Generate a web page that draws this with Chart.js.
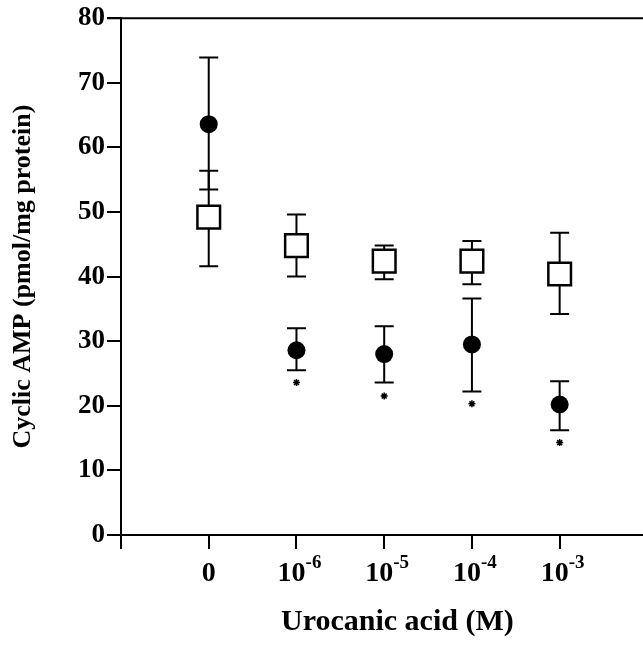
<!DOCTYPE html>
<html lang="en">
<head>
  <meta charset="UTF-8" />
  <title>Cyclic AMP vs urocanic acid</title>
  <script src="https://cdn.jsdelivr.net/npm/chart.js"></script>
  <style>
    body { margin: 0; background: #fff; }
  </style>
</head>
<body>
  <canvas id="chart" width="643" height="646"></canvas>

  <script>
    // category positions on the x axis and their tick labels (base + exponent)
    const categoryPos = [1, 2, 3, 4, 5];
    const xTickBase = ['0', '10', '10', '10', '10'];
    const xTickExp = ['', '-6', '-5', '-4', '-3'];

    // filled circles
    const circleMean = [63.6, 28.6, 28.0, 29.5, 20.2];
    const circleUpper = [73.9, 32.0, 32.3, 36.6, 23.8];
    const circleLower = [53.5, 25.5, 23.6, 22.2, 16.2];
    const starValues = [null, 23.6, 21.5, 20.3, 14.3];

    // open squares
    const squareMean = [49.2, 44.8, 42.4, 42.4, 40.4];
    const squareUpper = [56.4, 49.6, 44.8, 45.5, 46.8];
    const squareLower = [41.6, 40.0, 39.6, 38.8, 34.2];

    const FONT = "'Liberation Serif', 'Times New Roman', serif";

    const errorBars = {
      id: 'errorBars',
      beforeDatasetsDraw(chart) {
        const { ctx, scales: { x, y } } = chart;
        const cap = 9.5;
        ctx.save();
        ctx.strokeStyle = '#000';
        ctx.lineWidth = 2;
        const draw = (lo, hi) => lo.forEach((v, i) => {
          const px = x.getPixelForValue(categoryPos[i]);
          const yl = y.getPixelForValue(v);
          const yh = y.getPixelForValue(hi[i]);
          ctx.beginPath();
          ctx.moveTo(px, yl); ctx.lineTo(px, yh);
          ctx.moveTo(px - cap, yl); ctx.lineTo(px + cap, yl);
          ctx.moveTo(px - cap, yh); ctx.lineTo(px + cap, yh);
          ctx.stroke();
        });
        draw(squareLower, squareUpper);
        draw(circleLower, circleUpper);
        ctx.restore();
      },
      afterDraw(chart) {
        const { ctx, chartArea, scales: { x } } = chart;
        ctx.save();
        // top frame line
        ctx.strokeStyle = '#000';
        ctx.lineWidth = 2;
        ctx.beginPath();
        ctx.moveTo(chartArea.left - 14, chartArea.top);
        ctx.lineTo(chartArea.right, chartArea.top);
        ctx.stroke();

        // x tick labels with superscript exponents
        ctx.fillStyle = '#000';
        ctx.textBaseline = 'alphabetic';
        ctx.textAlign = 'left';
        const baseFont = 'bold 28px ' + FONT;
        const expFont = 'bold 19px ' + FONT;
        categoryPos.forEach((v, i) => {
          ctx.font = baseFont;
          const wb = ctx.measureText(xTickBase[i]).width;
          ctx.font = expFont;
          const we = xTickExp[i] ? ctx.measureText(xTickExp[i]).width : 0;
          const px = x.getPixelForValue(v) + (we ? 3 : 0);
          const start = px - (wb + we) / 2;
          ctx.font = baseFont;
          ctx.fillText(xTickBase[i], start, 581);
          if (we) {
            ctx.font = expFont;
            ctx.fillText(xTickExp[i], start + wb, 568);
          }
        });

        // x axis title
        ctx.font = 'bold 30px ' + FONT;
        ctx.textAlign = 'center';
        ctx.textBaseline = 'middle';
        ctx.fillText('Urocanic acid (M)', x.getPixelForValue(3.15), 622);
        ctx.restore();
      }
    };

    const toPoints = arr => arr.map((v, i) => ({ x: categoryPos[i], y: v }));

    new Chart(document.getElementById('chart').getContext('2d'), {
      type: 'scatter',
      data: {
        datasets: [
          {
            label: 'Circles',
            data: toPoints(circleMean),
            pointStyle: 'circle',
            pointRadius: 9,
            backgroundColor: '#000',
            borderColor: '#000',
            borderWidth: 0
          },
          {
            label: 'Squares',
            data: toPoints(squareMean),
            pointStyle: 'rect',
            pointRadius: 16,
            backgroundColor: '#fff',
            borderColor: '#000',
            borderWidth: 2.5
          },
          {
            label: 'Significance',
            data: toPoints(starValues).filter(p => p.y !== null),
            pointStyle: 'star',
            pointRadius: 3.5,
            backgroundColor: '#000',
            borderColor: '#000',
            borderWidth: 1.5
          }
        ]
      },
      options: {
        responsive: false,
        animation: false,
        layout: { autoPadding: false, padding: { top: 18, right: 0, bottom: 97, left: 0 } },
        plugins: {
          legend: { display: false },
          tooltip: { enabled: false }
        },
        scales: {
          x: {
            type: 'linear',
            min: 0,
            max: 5.95,
            afterBuildTicks: scale => {
              scale.ticks = [0].concat(categoryPos).map(v => ({ value: v }));
            },
            ticks: { display: false },
            grid: {
              drawOnChartArea: false,
              drawTicks: true,
              tickLength: 14,
              color: '#000',
              lineWidth: 2
            },
            border: { display: true, color: '#000', width: 2 }
          },
          y: {
            min: 0,
            max: 80,
            afterFit: scale => { scale.width = 121; },
            ticks: {
              stepSize: 10,
              color: '#000',
              padding: 2,
              font: { family: FONT, size: 27, weight: 'bold' }
            },
            grid: {
              drawOnChartArea: false,
              drawTicks: true,
              tickLength: 14,
              color: '#000',
              lineWidth: 2
            },
            border: { display: true, color: '#000', width: 2 },
            title: {
              display: true,
              text: 'Cyclic AMP (pmol/mg protein)',
              color: '#000',
              padding: { top: 8, bottom: 0 },
              font: { family: FONT, size: 26, weight: 'bold' }
            }
          }
        }
      },
      plugins: [errorBars]
    });
  </script>
</body>
</html>
